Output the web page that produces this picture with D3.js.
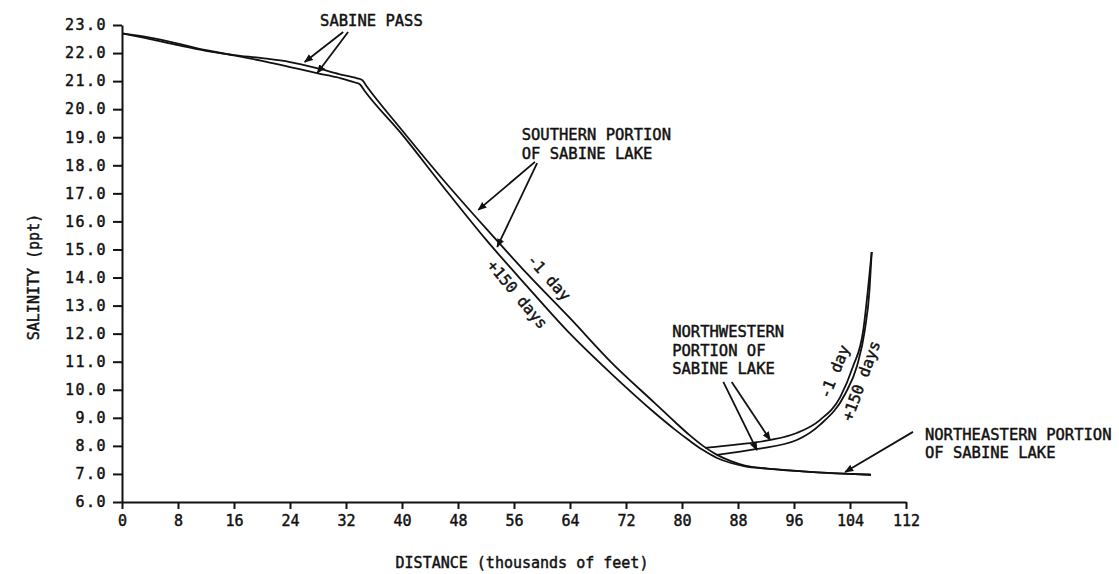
<!DOCTYPE html>
<html>
<head>
<meta charset="utf-8">
<script src="https://cdn.jsdelivr.net/npm/d3@7"></script>
<style>
  body { margin: 0; background: #fff; }
  svg text { font-family: "DejaVu Sans Mono", "Liberation Mono", monospace; fill: #111; stroke: #111; stroke-width: 0.45px; }
</style>
</head>
<body>
<svg id="chart"></svg>
<script>
// salinity profiles, distance in thousands of feet vs salinity (ppt)
const mainMinus1 = [
    [0, 22.7], [4, 22.5], [8, 22.28], [12, 22.08], [16, 21.93], [20, 21.82], [24, 21.68],
    [28, 21.45], [31, 21.25], [33.6, 21.1], [34.3, 21.04], [35, 20.8],
    [40, 19.25], [46, 17.45], [52, 15.75], [58, 14.1], [64, 12.55], [70, 10.95],
    [76, 9.55], [79, 8.85], [81, 8.4], [83, 8.0], [85, 7.68], [87, 7.46], [89, 7.3],
    [92, 7.2], [96, 7.12], [100, 7.05], [104, 7.0], [107, 6.97]
];
const main150 = [
    [0, 22.7], [4, 22.55], [8, 22.34], [12, 22.1], [16, 21.92], [20, 21.72], [24, 21.5],
    [28, 21.28], [31, 21.12], [33.3, 20.95], [34, 20.88], [34.7, 20.64],
    [40, 19.1], [46, 17.2], [52, 15.35], [58, 13.65], [64, 12.0], [70, 10.55],
    [76, 9.2], [79, 8.58], [81, 8.2], [83, 7.85], [85, 7.57], [87, 7.39], [89, 7.27],
    [92, 7.19], [96, 7.11], [100, 7.05], [104, 7.0], [107, 6.97]
];
// northwestern branch
const nwMinus1 = [
    [83.3, 7.93], [88, 8.05], [92.6, 8.21], [96.4, 8.46], [99.7, 8.92], [102.6, 9.74],
    [104.4, 10.81], [105.9, 12.13], [106.6, 13.66], [107.1, 14.91]
];
const nw150 = [
    [85, 7.68], [90.7, 7.89], [96.4, 8.21], [99.7, 8.75], [103.3, 9.85], [105, 10.85],
    [106.1, 12.1], [106.8, 13.6], [107.1, 14.91]
];

const xTicks = d3.range(0, 113, 8);
const yTicks = d3.range(6, 23.5, 1);

const width = 1119;
const height = 574;
const margin = ({ top: 25, right: 213, bottom: 72, left: 122 });

const svg = d3.select("#chart")
    .attr("width", width)
    .attr("height", height);

const xScale = d3.scaleLinear()
    .domain([0, 112])
    .range([margin.left, width - margin.right]);

const yScale = d3.scaleLinear()
    .domain([6, 23])
    .range([height - margin.bottom, margin.top]);

svg.append("defs").append("marker")
    .attr("id", "arrow")
    .attr("viewBox", "0 0 10 10")
    .attr("refX", 9).attr("refY", 5)
    .attr("markerWidth", 9).attr("markerHeight", 9)
    .attr("markerUnits", "userSpaceOnUse")
    .attr("orient", "auto")
    .append("path")
    .attr("d", "M0,1 L10,5 L0,9 z")
    .attr("fill", "#111");

// axes
const yAxis = g => g
    .attr("transform", `translate(${margin.left},0)`)
    .call(d3.axisLeft(yScale).tickValues(yTicks).tickFormat(d3.format(".1f")).tickSize(9).tickSizeOuter(0).tickPadding(6))
    .call(g => g.selectAll("text").attr("font-size", 15).attr("letter-spacing", 1.5).attr("font-family", "DejaVu Sans Mono"));

const xAxis = g => g
    .attr("transform", `translate(0,${height - margin.bottom})`)
    .call(d3.axisBottom(xScale).tickValues(xTicks).tickSize(7).tickSizeOuter(0).tickPadding(6))
    .call(g => g.selectAll("text").attr("font-size", 15).attr("font-family", "DejaVu Sans Mono"));

svg.append("g").call(yAxis)
    .call(g => g.selectAll("line, path").attr("stroke", "#111").attr("stroke-width", 2));
svg.append("g").call(xAxis)
    .call(g => g.selectAll("line, path").attr("stroke", "#111").attr("stroke-width", 2));

svg.append("text")
    .attr("transform", `translate(39,277) rotate(-90)`)
    .attr("text-anchor", "middle")
    .attr("font-size", 15)
    .text("SALINITY (ppt)");

svg.append("text")
    .attr("x", 522)
    .attr("y", 568)
    .attr("text-anchor", "middle")
    .attr("font-size", 15)
    .text("DISTANCE (thousands of feet)");

// curves
const line = d3.line()
    .x(d => xScale(d[0]))
    .y(d => yScale(d[1]))
    .curve(d3.curveMonotoneX);

svg.append("g")
    .selectAll("path")
    .data([mainMinus1, main150, nwMinus1, nw150])
    .join("path")
    .attr("d", line)
    .attr("fill", "none")
    .attr("stroke", "#111")
    .attr("stroke-width", 1.8)
    .attr("stroke-linejoin", "round");

// annotation arrows (data units)
const arrows = [
    [[31.6, 22.75], [26.1, 21.68]],
    [[32.3, 22.75], [27.9, 21.29]],
    [[59.0, 18.12], [50.9, 16.41]],
    [[59.3, 18.08], [53.6, 15.09]],
    [[85.9, 10.28], [90.7, 7.85]],
    [[87.1, 10.28], [92.6, 8.21]],
    [[113, 8.5], [103.3, 7.07]]
];

svg.append("g")
    .selectAll("line")
    .data(arrows)
    .join("line")
    .attr("x1", d => xScale(d[0][0]))
    .attr("y1", d => yScale(d[0][1]))
    .attr("x2", d => xScale(d[1][0]))
    .attr("y2", d => yScale(d[1][1]))
    .attr("stroke", "#111")
    .attr("stroke-width", 1.8)
    .attr("marker-end", "url(#arrow)");

const notes = [
    { x: 28.3, y: 22.96, lines: ["SABINE PASS"] },
    { x: 57.1, y: 18.9, lines: ["SOUTHERN PORTION", "OF SABINE LAKE"] },
    { x: 78.6, y: 11.88, lines: ["NORTHWESTERN", "PORTION OF", "SABINE LAKE"] },
    { x: 114.7, y: 8.21, lines: ["NORTHEASTERN PORTION", "OF SABINE LAKE"] }
];

notes.forEach(n => {
    n.lines.forEach((t, i) => {
        svg.append("text")
            .attr("x", xScale(n.x))
            .attr("y", yScale(n.y) + i * 18.5)
            .attr("font-size", 15.5)
            .text(t);
    });
});

const curveLabels = [
    { x: 60.9, y: 13.98, angle: 48, text: "-1 day" },
    { x: 56.4, y: 13.38, angle: 50, text: "+150 days" },
    { x: 101.9, y: 10.63, angle: -68, text: "-1 day" },
    { x: 105.7, y: 10.31, angle: -70, text: "+150 days" }
];

svg.append("g")
    .selectAll("text")
    .data(curveLabels)
    .join("text")
    .attr("transform", d => `translate(${xScale(d.x)},${yScale(d.y)}) rotate(${d.angle})`)
    .attr("text-anchor", "middle")
    .attr("dominant-baseline", "middle")
    .attr("font-size", 15.5)
    .text(d => d.text);
</script>
</body>
</html>
